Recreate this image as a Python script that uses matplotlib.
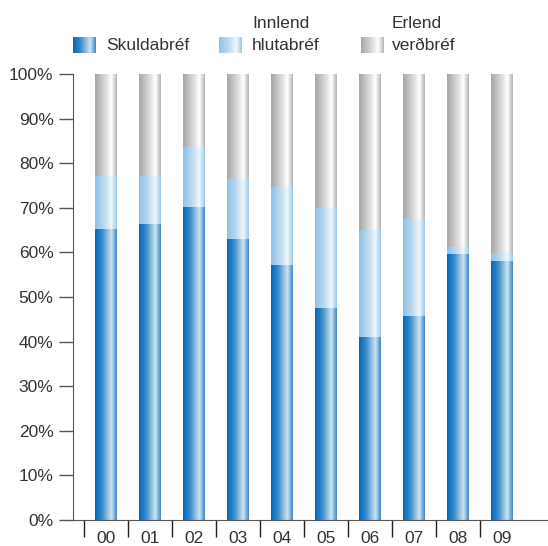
import numpy as np
import matplotlib
matplotlib.use("Agg")
import matplotlib.pyplot as plt
from matplotlib.colors import LinearSegmentedColormap

# -----------------------------------
# DATA
# -----------------------------------

years = ["00", "01", "02", "03", "04", "05", "06", "07", "08", "09"]

skuldabref = [65.2, 66.4, 70.2, 63.0, 57.2, 47.5, 41.0, 45.7, 59.6, 58.1]
innlend = [11.9, 10.7, 13.4, 13.5, 17.5, 22.5, 24.0, 21.8, 1.6, 1.8]
erlend = [100 - s - i for s, i in zip(skuldabref, innlend)]

series_names = [("", "Skuldabréf"), ("Innlend", "hlutabréf"), ("Erlend", "verðbréf")]

# -----------------------------------
# STYLE
# -----------------------------------

plt.rcParams["font.family"] = ["Liberation Sans", "DejaVu Sans"]

text_color = "#333333"
axis_color = "#555555"
font_size = 12.5

grad_blue = LinearSegmentedColormap.from_list(
    "blue", [(0.0, "#0068b8"), (0.35, "#3f8fcc"), (0.75, "#cfe4f2"), (1.0, "#3a86c6")]
)
grad_light = LinearSegmentedColormap.from_list(
    "light", [(0.0, "#90c2e6"), (0.4, "#b8d9ef"), (0.75, "#f0f7fc"), (1.0, "#9cc9e9")]
)
grad_gray = LinearSegmentedColormap.from_list(
    "gray", [(0.0, "#a6a6a6"), (0.4, "#d2d2d2"), (0.75, "#ffffff"), (1.0, "#b4b4b4")]
)
cmaps = [grad_blue, grad_light, grad_gray]

gradient = np.linspace(0, 1, 256).reshape(1, -1)

# -----------------------------------
# FIGURE
# -----------------------------------

fig = plt.figure(figsize=(5.48, 5.46), dpi=100)
ax = fig.add_axes([73 / 548, 26 / 546, 475 / 548, 446 / 546])

bar_width = 0.5
x = np.arange(len(years))

for i in range(len(years)):
    bottom = 0
    for vals, cmap in zip([skuldabref, innlend, erlend], cmaps):
        top = bottom + vals[i]
        ax.imshow(
            gradient,
            cmap=cmap,
            extent=[x[i] - bar_width / 2, x[i] + bar_width / 2, bottom, top],
            aspect="auto",
            interpolation="bilinear",
        )
        bottom = top

ax.set_xlim(-0.757, 10.04)
ax.set_ylim(0, 100)

# -----------------------------------
# AXES
# -----------------------------------

for side in ["top", "right"]:
    ax.spines[side].set_visible(False)

ax.spines["left"].set_color(axis_color)
ax.spines["bottom"].set_color(axis_color)

ax.set_yticks(np.arange(0, 101, 10))
ax.set_yticklabels([f"{v}%" for v in range(0, 101, 10)])
ax.tick_params(
    axis="y", length=10, width=1.0, color=axis_color,
    labelsize=font_size, labelcolor=text_color, pad=4
)

# tick marks between the bars, labels under the bars
ax.set_xticks(np.arange(-0.5, 9, 1.0))
ax.set_xticklabels([])
ax.tick_params(axis="x", which="major", length=12, width=1.0, color="#222222")

ax.set_xticks(x, minor=True)
ax.set_xticklabels(years, minor=True)
ax.tick_params(
    axis="x", which="minor", length=0, labelsize=font_size,
    labelcolor=text_color, pad=8
)

# -----------------------------------
# LEGEND
# -----------------------------------

legend_items = [
    (73, 106),
    (219, 252),
    (361, 392),
]

for (sx, tx), (line1, line2), cmap in zip(legend_items, series_names, cmaps):
    lax = fig.add_axes([sx / 548, (546 - 53) / 546, 23 / 548, 16 / 546])
    lax.imshow(gradient, cmap=cmap, aspect="auto", interpolation="bilinear")
    lax.axis("off")
    fig.text(
        tx / 548, (546 - 45) / 546, line2,
        fontsize=font_size, color=text_color, ha="left", va="center"
    )
    if line1:
        fig.text(
            tx / 548, (546 - 23) / 546, line1,
            fontsize=font_size, color=text_color, ha="left", va="center"
        )

fig.savefig("out.png", dpi=100)
